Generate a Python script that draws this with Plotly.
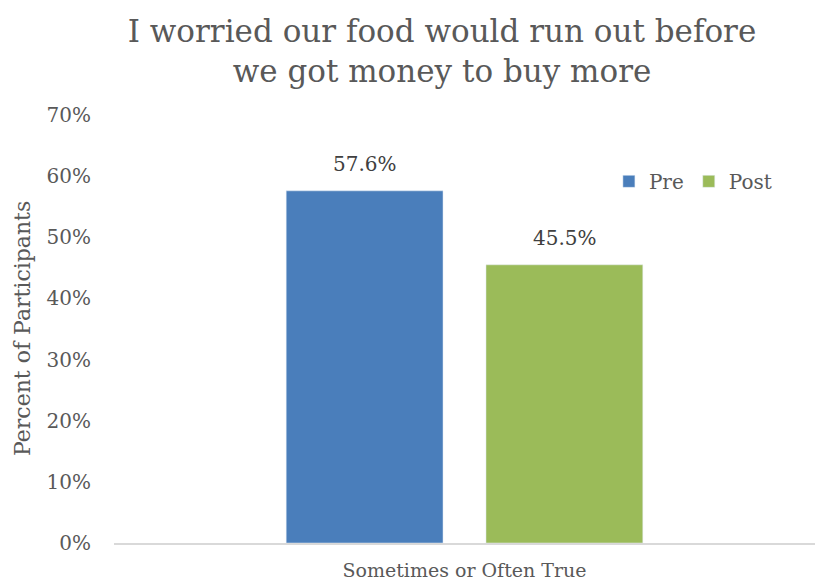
import plotly.graph_objects as go

categories = ["Sometimes or Often True"]
series_names = ["Pre", "Post"]
pre_values = [0.576]
post_values = [0.455]
colors = ["#4a7ebb", "#9bbb59"]
y_ticks = [0, 0.1, 0.2, 0.3, 0.4, 0.5, 0.6, 0.7]

FONT = "DejaVu Serif"
GREY = "#595959"

fig = go.Figure()
for name, vals, col in zip(series_names, [pre_values, post_values], colors):
    fig.add_trace(go.Bar(
        x=categories, y=vals, name=name, marker_color=col,
    ))

# data labels as annotations above each bar
offsets = [-100, 100]
for vals, dx in zip([pre_values, post_values], offsets):
    for c, v in zip(categories, vals):
        fig.add_annotation(x=c, y=v, xshift=dx, yshift=13, yanchor="bottom",
                           text=f"{v*100:.1f}%", showarrow=False,
                           font=dict(family=FONT, size=20, color="#404040"))

fig.update_layout(
    width=817, height=584,
    paper_bgcolor="white", plot_bgcolor="white",
    margin=dict(l=114, r=2, t=115, b=41, autoexpand=False),
    barmode="group", bargap=0.43, bargroupgap=0.215,
    font=dict(family=FONT, color=GREY),
    title=dict(text="I worried our food would run out before<br>we got money to buy more",
               x=0.541, xref="container", xanchor="center",
               y=1 - 42/584, yref="container", yanchor="middle",
               font=dict(family=FONT, size=31, color=GREY)),
    legend=dict(orientation="h", x=0.706, y=0.845, xanchor="left", yanchor="middle",
                font=dict(family=FONT, size=20, color=GREY), itemwidth=30,
                bgcolor="rgba(0,0,0,0)", traceorder="normal"),
    showlegend=True,
)
fig.update_xaxes(showgrid=False, showline=True, linecolor="#d9d9d9", linewidth=2,
                 ticks="", ticklabelstandoff=9,
                 tickfont=dict(family=FONT, size=19, color=GREY))
fig.update_yaxes(range=[0, 0.7], tickvals=y_ticks, tickformat=".0%",
                 showgrid=False, showline=False, zeroline=False,
                 ticklabelstandoff=22,
                 tickfont=dict(family=FONT, size=20, color=GREY))
fig.add_annotation(text="Percent of Participants", textangle=-90,
                   xref="paper", x=-(114 - 22) / 701, xanchor="center",
                   yref="paper", y=0.5, yanchor="middle", showarrow=False,
                   font=dict(family=FONT, size=22, color=GREY))

fig.write_html("out.html")
